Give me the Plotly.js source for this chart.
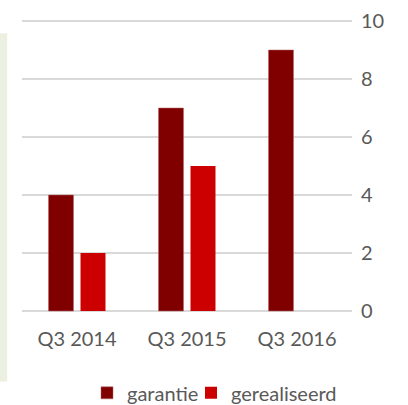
<!DOCTYPE html>
<html>
<head>
<meta charset="utf-8">
<script src="https://cdn.plot.ly/plotly-3.0.1.min.js"></script>
<style>html,body{margin:0;padding:0;background:#fff;}#chart{width:408px;height:405px;}</style>
</head>
<body>
<div id="chart"></div>
<script>
var categories = ["Q3 2014", "Q3 2015", "Q3 2016"];
var garantie = [4, 7, 9];
var gerealiseerd = [2, 5, null];
var seriesNames = ["garantie", "gerealiseerd"];
var yTicks = [0, 2, 4, 6, 8, 10];

var font = {family: "Lato, 'Open Sans', sans-serif", size: 20, color: "#595959"};

var data = [
  {type: "bar", name: seriesNames[0], x: categories, y: garantie, legend: "legend",
   marker: {color: "#800000", line: {color: "#b36060", width: 0.5}}},
  {type: "bar", name: seriesNames[1], x: categories, y: gerealiseerd, legend: "legend2",
   marker: {color: "#cc0000"}}
];

function legendAt(xpx) {
  return {orientation: "h", xref: "container", yref: "container",
          x: xpx / 408, xanchor: "left", y: 0.03, yanchor: "middle",
          bgcolor: "rgba(0,0,0,0)", font: font, itemwidth: 30};
}

var layout = {
  width: 408, height: 405,
  margin: {l: 22, r: 56, t: 20, b: 93, autoexpand: false},
  paper_bgcolor: "#ffffff", plot_bgcolor: "#ffffff",
  font: font,
  barmode: "group",
  bargap: 0.418,
  bargroupgap: 0.22,
  showlegend: true,
  legend: legendAt(87),
  legend2: legendAt(191),
  xaxis: {type: "category", showgrid: false, zeroline: false, showline: false,
          ticks: "", tickfont: font, ticklabelstandoff: 13, automargin: false},
  yaxis: {side: "right", range: [-0.035, 10.035], tickvals: yTicks, ticktext: yTicks.map(String),
          showgrid: true, gridcolor: "#d9d9d9", gridwidth: 1.5, zeroline: false,
          showline: false, ticks: "", tickfont: font, ticklabelstandoff: 8, automargin: false},
  shapes: [{type: "rect", xref: "paper", yref: "paper", x0: -0.0667, x1: -0.045,
            y0: -0.238, y1: 0.955, fillcolor: "#ebf0e0", line: {width: 0}, layer: "below"}]
};

Plotly.newPlot("chart", data, layout, {displayModeBar: false, staticPlot: true});
</script>
</body>
</html>
